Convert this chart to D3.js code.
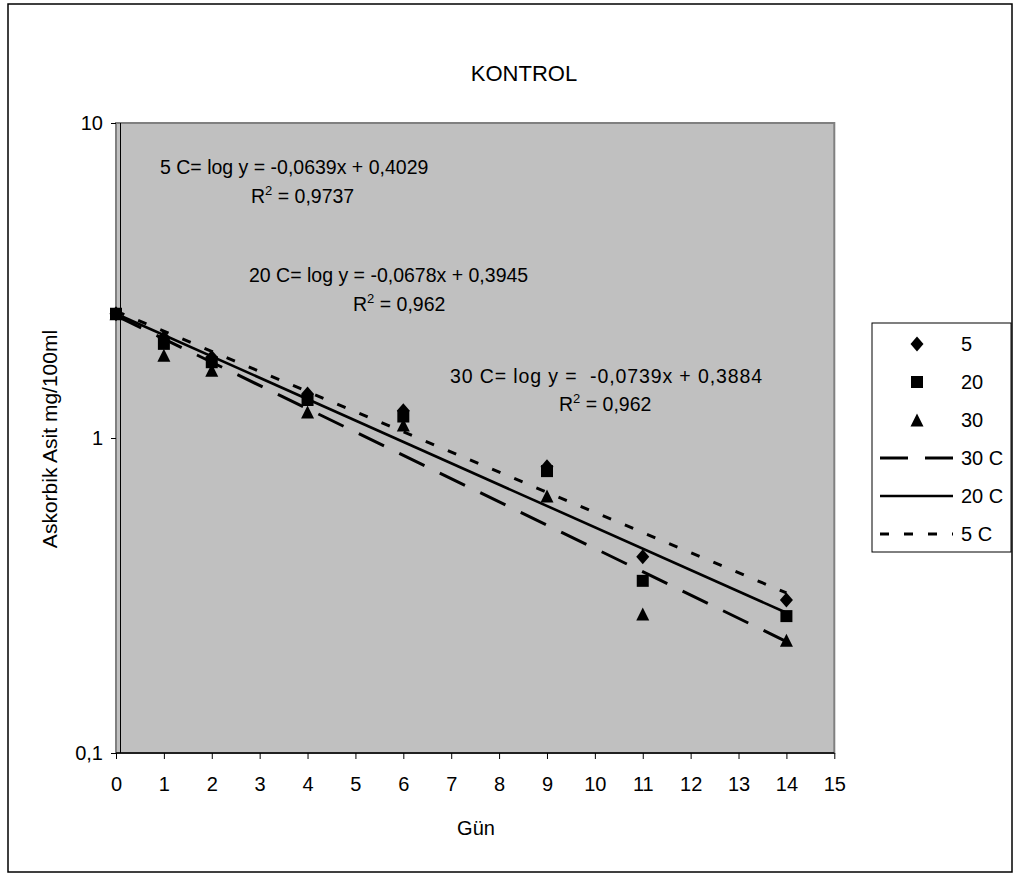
<!DOCTYPE html>
<html>
<head>
<meta charset="utf-8">
<title>KONTROL</title>
<script src="https://d3js.org/d3.v7.min.js"></script>
<style>
  body { margin: 0; background: #fff; }
  text { font-family: "Liberation Sans", Arial, sans-serif; fill: #000; }
  .tick text { font-size: 20px; }
</style>
</head>
<body>
<div id="chart"></div>
<script>
// measured values (Gün vs Askorbik Asit)
var days = [0, 1, 2, 4, 6, 9, 11, 14];
var seriesNames = ["5", "20", "30"];
var val5  = [2.48, 2.08, 1.80, 1.38, 1.22, 0.81, 0.42, 0.306];
var val20 = [2.48, 1.99, 1.74, 1.32, 1.17, 0.785, 0.352, 0.272];
var val30 = [2.48, 1.83, 1.64, 1.21, 1.10, 0.655, 0.276, 0.228];

// trendlines as written on the chart: log y = a*x + b
var trendNames = ["30 C", "20 C", "5 C"];
var trendSlope = [-0.0739, -0.0678, -0.0639];
var trendIntercept = [0.3884, 0.3945, 0.4029];
var trendRange = [0, 14];

var xTicks = d3.range(0, 16);
var yTicks = [0.1, 1, 10];
var yTickLabels = ["0,1", "1", "10"];

var labels = [
  {x: 160, y: 174, t: "5 C= log y = -0,0639x + 0,4029"},
  {x: 251, y: 203, t: "R", sup: "2", rest: " = 0,9737"},
  {x: 249, y: 282, t: "20 C= log y = -0,0678x + 0,3945"},
  {x: 353, y: 311, t: "R", sup: "2", rest: " = 0,962"},
  {x: 450, y: 383, t: "30 C= log y =  -0,0739x + 0,3884", len: 312},
  {x: 559, y: 411, t: "R", sup: "2", rest: " = 0,962"}
];

var width = 1013, height = 873;
var plot = {left: 116, right: 834.3, top: 123, bottom: 753};

var svg = d3.select("#chart").append("svg")
  .attr("width", width)
  .attr("height", height);

// outer chart border
svg.append("rect")
  .attr("x", 8).attr("y", 4)
  .attr("width", 1004).attr("height", 868)
  .attr("fill", "#fff")
  .attr("stroke", "#000")
  .attr("stroke-width", 1.5);

var x = d3.scaleLinear().domain([0, 15]).range([plot.left, plot.right]);
var y = d3.scaleLog().domain([0.1, 10]).range([plot.bottom, plot.top]);

// plot area
svg.append("rect")
  .attr("x", plot.left).attr("y", plot.top)
  .attr("width", plot.right - plot.left)
  .attr("height", plot.bottom - plot.top)
  .attr("fill", "#c0c0c0")
  .attr("stroke", "#808080")
  .attr("stroke-width", 2);

svg.append("line")
  .attr("x1", plot.left + 4.5).attr("x2", plot.left + 4.5)
  .attr("y1", plot.top).attr("y2", plot.bottom)
  .attr("stroke", "#000").attr("stroke-width", 1);

svg.append("line")
  .attr("x1", plot.left).attr("x2", plot.right)
  .attr("y1", plot.bottom).attr("y2", plot.bottom)
  .attr("stroke", "#000").attr("stroke-width", 1.5);

// axes
var xAxis = d3.axisBottom(x).tickValues(xTicks).tickSize(6).tickPadding(18)
  .tickFormat(d3.format("d"));
var gx = svg.append("g")
  .attr("transform", "translate(0," + plot.bottom + ")")
  .call(xAxis);
gx.select(".domain").remove();
gx.selectAll(".tick line").attr("stroke", "#000");
gx.selectAll(".tick text").attr("font-family", null);

var yAxis = d3.axisLeft(y).tickValues(yTicks).tickSize(5).tickPadding(8)
  .tickFormat(function(d, i) { return yTickLabels[i]; });
var gy = svg.append("g")
  .attr("transform", "translate(" + plot.left + ",0)")
  .call(yAxis);
gy.select(".domain").remove();
gy.selectAll(".tick line").attr("stroke", "#000");
gy.selectAll(".tick text").attr("font-family", null);

// trendlines
var dashes = ["28,17", null, "9,15"];
var widths = [3, 2.6, 3];
var line = d3.line()
  .x(function(d) { return x(d[0]); })
  .y(function(d) { return y(d[1]); });

trendNames.forEach(function(name, i) {
  var pts = trendRange.map(function(d) {
    return [d, Math.pow(10, trendSlope[i] * d + trendIntercept[i])];
  });
  svg.append("path")
    .datum(pts)
    .attr("d", line)
    .attr("fill", "none")
    .attr("stroke", "#000")
    .attr("stroke-width", widths[i])
    .attr("stroke-dasharray", dashes[i]);
});

// marker shapes
function marker(kind) {
  if (kind === 0) return "M0,-7.5L6.5,0L0,7.5L-6.5,0Z";
  if (kind === 1) return "M-6,-6H6V6H-6Z";
  return "M0,-6.5L6.5,6.5L-6.5,6.5Z";
}

[val5, val20, val30].forEach(function(vals, k) {
  svg.append("g").selectAll("path")
    .data(days.map(function(d, i) { return [d, vals[i]]; }))
    .enter().append("path")
    .attr("d", marker(k))
    .attr("transform", function(d) { return "translate(" + x(d[0]) + "," + y(d[1]) + ")"; })
    .attr("fill", "#000");
});

// equation labels
labels.forEach(function(l) {
  var t = svg.append("text")
    .attr("x", l.x).attr("y", l.y)
    .attr("font-size", 19.5)
    .style("white-space", "pre")
    .text(l.t);
  if (l.len) t.attr("textLength", l.len).attr("lengthAdjust", "spacing");
  if (l.sup) {
    t.append("tspan").attr("font-size", 13).attr("dy", -8).text(l.sup);
    t.append("tspan").attr("dy", 8).text(l.rest);
  }
});

// titles
svg.append("text")
  .attr("x", 524).attr("y", 81)
  .attr("text-anchor", "middle")
  .attr("font-size", 22)
  .text("KONTROL");

svg.append("text")
  .attr("x", 476).attr("y", 835)
  .attr("text-anchor", "middle")
  .attr("font-size", 20)
  .text("Gün");

svg.append("text")
  .attr("transform", "translate(57,439) rotate(-90)")
  .attr("text-anchor", "middle")
  .attr("font-size", 21)
  .text("Askorbik Asit mg/100ml");

// legend
var legend = svg.append("g");
legend.append("rect")
  .attr("x", 872).attr("y", 323)
  .attr("width", 139).attr("height", 229)
  .attr("fill", "#fff")
  .attr("stroke", "#000")
  .attr("stroke-width", 1);

var legendRows = seriesNames.concat(trendNames);
legendRows.forEach(function(name, i) {
  var cy = 344 + i * 38;
  if (i < 3) {
    legend.append("path")
      .attr("d", marker(i))
      .attr("transform", "translate(917," + cy + ")")
      .attr("fill", "#000");
  } else {
    var j = i - 3;
    legend.append("line")
      .attr("x1", 880).attr("x2", 953)
      .attr("y1", cy).attr("y2", cy)
      .attr("stroke", "#000")
      .attr("stroke-width", widths[j])
      .attr("stroke-dasharray", dashes[j]);
  }
  legend.append("text")
    .attr("x", 961).attr("y", cy + 7)
    .attr("font-size", 20)
    .text(name);
});
</script>
</body>
</html>
